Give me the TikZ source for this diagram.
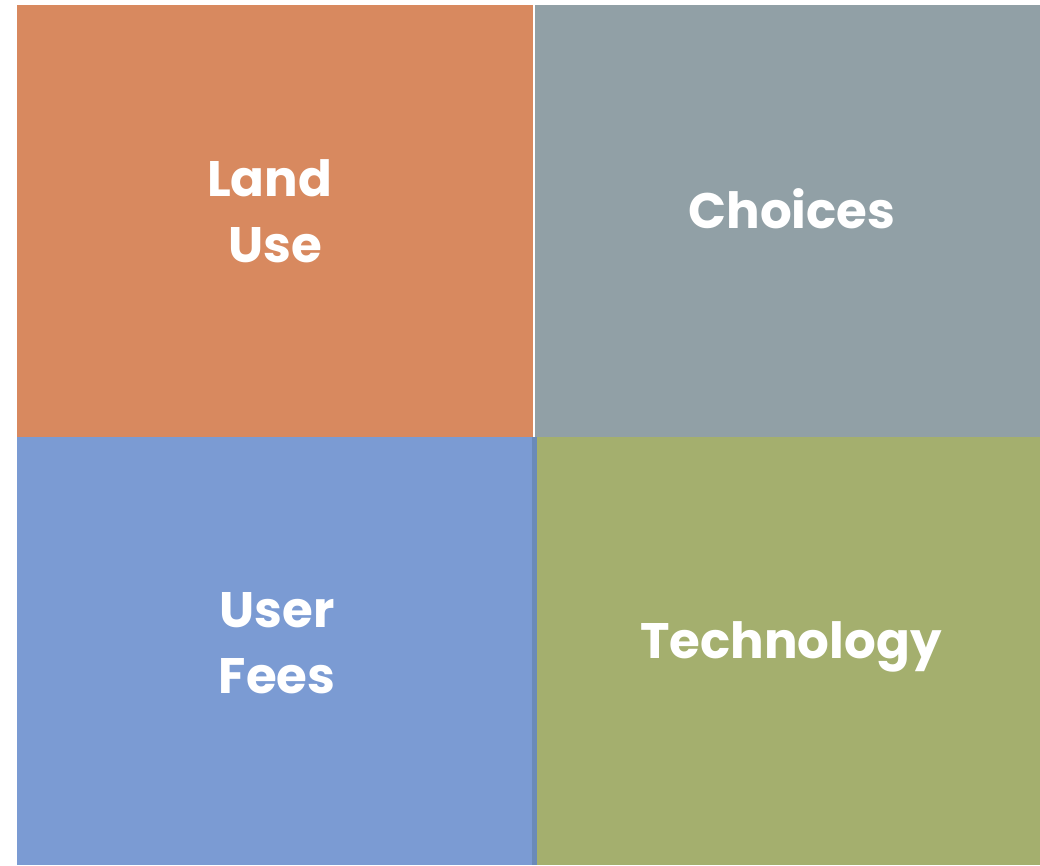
\documentclass[tikz,border=0pt]{standalone}
\usepackage{fontspec}
\setmainfont{Poppins}[BoldFont={* Bold}]
\definecolor{landcol}{HTML}{D8895F}
\definecolor{choicecol}{HTML}{91A0A6}
\definecolor{feecol}{HTML}{7B9BD3}
\definecolor{feedark}{HTML}{6A8AB8}
\definecolor{techcol}{HTML}{A4AF6E}
\tikzset{
  quad/.style={text=white, align=center,
    font=\fontsize{37.4}{49.5}\selectfont\bfseries}
}
\begin{document}
\begin{tikzpicture}[x=0.75pt,y=-0.75pt]
    \useasboundingbox (0,0) rectangle (1040,865);
    \fill[white] (0,0) rectangle (1040,865);% page
    \fill[landcol] (17,5) rectangle (533,437);
    \fill[choicecol] (535,5) rectangle (1040,437);
    \fill[feecol] (17,437) rectangle (532,865);
    \fill[feedark] (532,437) rectangle (537,865);% darker strip
    \fill[techcol] (537,437) rectangle (1040,865);
    \node[quad] (land) at (275,211) {Land\hspace*{8pt}\\Use};
    \node[quad] (choices) at (792,209) {Choices};
    \node[quad] (fees) at (277,643) {User\\Fees};
    \node[quad] (tech) at (791,647) {Technology};
  \end{tikzpicture}
\end{document}
